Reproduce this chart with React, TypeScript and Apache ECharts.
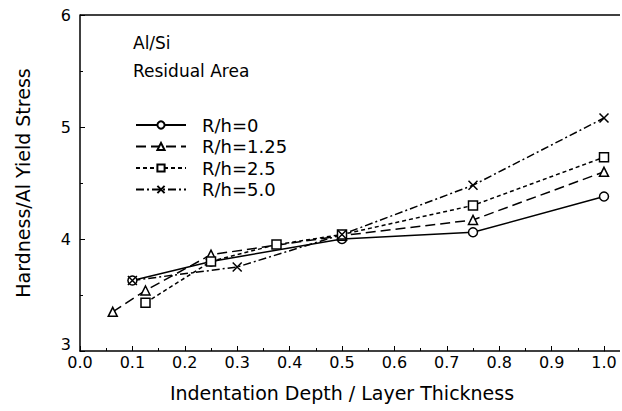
import React, { useEffect, useRef } from "react";
import * as echarts from "echarts";

const seriesNames = ["R/h=0", "R/h=1.25", "R/h=2.5", "R/h=5.0"];
const xR0 = [0.1, 0.25, 0.5, 0.75, 1.0];
const yR0 = [3.63, 3.8, 4.0, 4.06, 4.38];
const xR125 = [0.0625, 0.125, 0.25, 0.5, 0.75, 1.0];
const yR125 = [3.35, 3.54, 3.86, 4.03, 4.17, 4.6];
const xR25 = [0.125, 0.25, 0.375, 0.5, 0.75, 1.0];
const yR25 = [3.43, 3.8, 3.95, 4.04, 4.3, 4.73];
const xR50 = [0.1, 0.3, 0.5, 0.75, 1.0];
const yR50 = [3.63, 3.75, 4.04, 4.48, 5.08];
const xTickLabels = ["0.0", "0.1", "0.2", "0.3", "0.4", "0.5", "0.6", "0.7", "0.8", "0.9", "1.0"];

const FONT = "DejaVu Sans";
const GL = 80, GT = 15, GR = 18, GB = 60;

export default function App() {
  const ref = useRef<HTMLDivElement>(null);
  useEffect(() => {
    const chart = echarts.init(ref.current!, undefined, { renderer: "svg" });
    const pair = (xs: number[], ys: number[]) => xs.map((x, i) => [x, ys[i]]);
    const base = (name: string, data: number[][], symbol: string, dash: any, size: number) => ({
      name,
      type: "line",
      data,
      symbol,
      symbolSize: size,
      lineStyle: { color: "#000", width: 1.5, type: dash },
      itemStyle: { color: "#fff", borderColor: "#000", borderWidth: 1.5 },
    });
    chart.setOption({
      animation: false,
      backgroundColor: "#fff",
      textStyle: { fontFamily: FONT },
      grid: { left: GL, top: GT, right: GR, bottom: GB },
      legend: {
        orient: "vertical",
        left: 130,
        top: 111,
        itemWidth: 50,
        itemHeight: 9,
        itemGap: 3.5,
        textStyle: { fontSize: 18, color: "#000", fontFamily: FONT, lineHeight: 18, padding: [0, 0, 0, 11] },
        data: seriesNames,
      },
      xAxis: {
        type: "value",
        min: 0,
        max: 1,
        interval: 0.1,
        axisLine: { lineStyle: { color: "#000", width: 1.5 } },
        axisTick: { inside: true, length: 5, lineStyle: { color: "#000" } },
        minorTick: { show: true, splitNumber: 2, length: 3, lineStyle: { color: "#000" } },
        splitLine: { show: false },
        axisLabel: {
          color: "#000",
          fontSize: 16,
          margin: 3,
          formatter: (v: number) => xTickLabels[Math.round(v * 10)] ?? "",
        },
        name: "Indentation Depth / Layer Thickness",
        nameLocation: "middle",
        nameGap: 32,
        nameTextStyle: { fontSize: 19, color: "#000" },
      },
      yAxis: {
        type: "value",
        min: 3,
        max: 6,
        interval: 1,
        axisLine: { lineStyle: { color: "#000", width: 1.5 } },
        axisTick: { inside: true, length: 5, lineStyle: { color: "#000" } },
        minorTick: { show: true, splitNumber: 2, length: 3, lineStyle: { color: "#000" } },
        splitLine: { show: false },
        axisLabel: {
          color: "#000",
          fontSize: 16,
          margin: 9,
          formatter: (v: number) => (v === 3 ? "{lo|3}" : String(v)),
          rich: { lo: { fontSize: 16, fontFamily: FONT, color: "#000", padding: [0, 0, 14, 0] } },
        },
        name: "Hardness/Al Yield Stress",
        nameLocation: "middle",
        nameGap: 48,
        nameTextStyle: { fontSize: 19, color: "#000" },
      },
      graphic: [
        { type: "line", shape: { x1: GL, y1: GT, x2: 620, y2: GT }, style: { stroke: "#000", lineWidth: 1.5 } },
        { type: "line", shape: { x1: 622 - GR, y1: 411 - GB, x2: 620, y2: 411 - GB }, style: { stroke: "#000", lineWidth: 1.5 } },
        { type: "text", left: 133, top: 34, style: { text: "Al/Si", font: `17px '${FONT}'`, fill: "#000" } },
        { type: "text", left: 133, top: 62, style: { text: "Residual Area", font: `17px '${FONT}'`, fill: "#000" } },
      ],
      series: [
        base(seriesNames[0], pair(xR0, yR0), "circle", "solid", 9),
        base(seriesNames[1], pair(xR125, yR125), "triangle", [10, 5], 9),
        base(seriesNames[2], pair(xR25, yR25), "rect", [4, 3], 9),
        base(seriesNames[3], pair(xR50, yR50), "path://M0,0L10,10M10,0L0,10", [8, 3, 2, 3], 9),
      ],
    });
    return () => chart.dispose();
  }, []);
  return <div ref={ref} style={{ width: 622, height: 411, position: "absolute", left: 0, top: 0 }} />;
}
